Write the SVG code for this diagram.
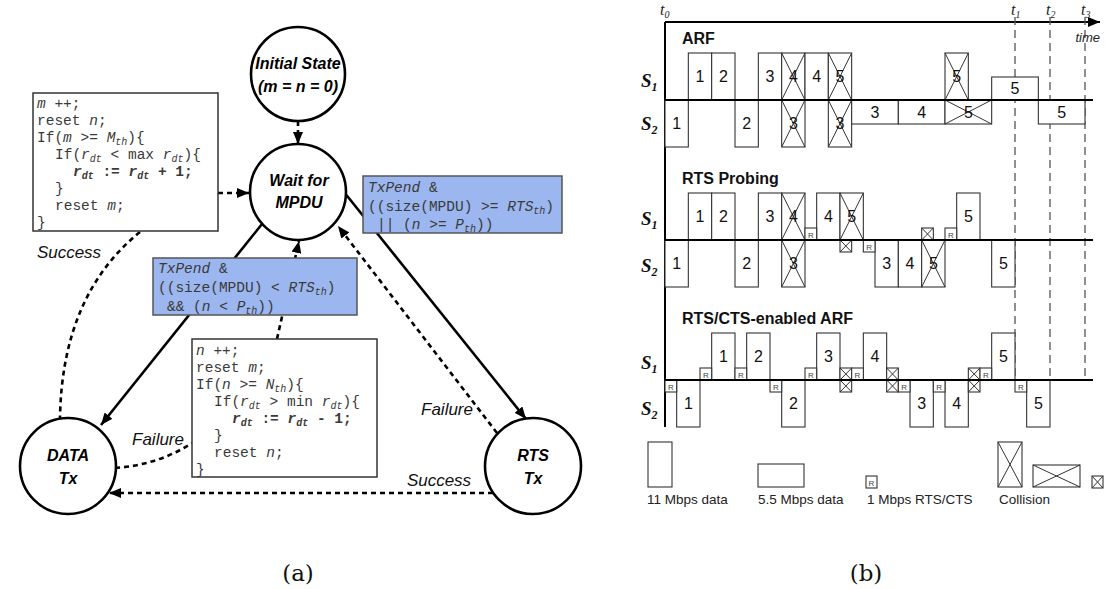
<svg xmlns="http://www.w3.org/2000/svg" width="1105" height="589" viewBox="0 0 1105 589">
<defs>
<style>
.st{fill:#fff;stroke:#000;stroke-width:2.6}
.nt{font-family:"Liberation Sans",Arial,sans-serif;font-weight:bold;font-style:italic;font-size:16px;text-anchor:middle;fill:#000}
.code{font-family:"Liberation Mono","Courier New",monospace;font-size:14.5px;fill:#3a3a3a}
.cb{fill:#fff;stroke:#333;stroke-width:1.5}
.blue{fill:#9cb6ef;stroke:#555;stroke-width:1.5}
.solid{fill:none;stroke:#000;stroke-width:2.6}
.dash{fill:none;stroke:#000;stroke-width:2.6;stroke-dasharray:5 4}
.lbl{font-family:"Liberation Sans",Arial,sans-serif;font-style:italic;font-size:17px;fill:#111;text-anchor:middle}
.b{fill:#fff;stroke:#333;stroke-width:1.1}
.x{fill:none;stroke:#333;stroke-width:1}
.n{font-family:"Liberation Sans",Arial,sans-serif;font-size:16px;text-anchor:middle;fill:#111}
.rt{font-family:"Liberation Sans",Arial,sans-serif;font-size:8px;text-anchor:middle;fill:#444}
.base{stroke:#000;stroke-width:2;fill:none}
.tl{stroke:#555;stroke-width:1.3;stroke-dasharray:8 5;fill:none}
.sec{font-family:"Liberation Sans",Arial,sans-serif;font-weight:bold;font-size:16px;fill:#111}
.sl{font-family:"Liberation Serif","Times New Roman",serif;font-weight:bold;font-style:italic;font-size:19px;fill:#111}
.leg{font-family:"Liberation Sans",Arial,sans-serif;font-size:13.5px;fill:#222}
.tt{font-family:"Liberation Serif","Times New Roman",serif;font-style:italic;font-size:16px;fill:#222}
.cap{font-family:"DejaVu Serif","Liberation Serif",serif;font-size:23px;fill:#111;text-anchor:middle}
</style>
<marker id="ah" viewBox="0 0 12 10" refX="12" refY="5" markerWidth="12" markerHeight="10" orient="auto" markerUnits="userSpaceOnUse"><path d="M0,0 L12,5 L0,10 z" fill="#000"/></marker>
</defs>
<rect width="1105" height="589" fill="#fff"/>

<g id="connectors">
<path class="solid" d="M262,224 L101,425" marker-end="url(#ah)"/>
<path class="solid" d="M344,192 L526,419" marker-end="url(#ah)"/>
<path class="dash" d="M298,121 L298,144" marker-end="url(#ah)"/>
<path class="dash" d="M218,193 L249,193" marker-end="url(#ah)"/>
<path class="dash" d="M277,339 L299,241" marker-end="url(#ah)"/>
<path class="dash" d="M497,433 L338,226" marker-end="url(#ah)"/>
<path class="dash" d="M493,493 L109,493" marker-end="url(#ah)"/>
<path class="dash" d="M140,232 Q62,295 60,418"/>
<path class="dash" d="M115,468 Q158,465 192,443"/>
<text class="lbl" x="69" y="258">Success</text>
<text class="lbl" x="158" y="445">Failure</text>
<text class="lbl" x="447" y="415">Failure</text>
<text class="lbl" x="439" y="486">Success</text>
</g>

<g id="node-initial">
<circle class="st" cx="298" cy="74" r="47"/>
<text class="nt" x="298" y="69">Initial State</text>
<text class="nt" x="298" y="92">(m = n = 0)</text>
</g>
<g id="node-wait">
<circle class="st" cx="298" cy="192" r="48"/>
<text class="nt" x="299" y="186">Wait for</text>
<text class="nt" x="299" y="208">MPDU</text>
</g>
<g id="node-data">
<circle class="st" cx="68" cy="466" r="48"/>
<text class="nt" x="68" y="461">DATA</text>
<text class="nt" x="68" y="484">Tx</text>
</g>
<g id="node-rts">
<circle class="st" cx="533" cy="466" r="48"/>
<text class="nt" x="533" y="461">RTS</text>
<text class="nt" x="533" y="484">Tx</text>
</g>

<g id="cond-rts">
<rect class="blue" x="363" y="176" width="199" height="57"/>
<text class="code" xml:space="preserve" x="368" y="192"><tspan font-style="italic">TxPend</tspan> &amp;</text>
<text class="code" xml:space="preserve" x="368" y="211">((size(MPDU) &gt;= <tspan font-style="italic">RTS</tspan><tspan font-style="italic" font-size="10" dy="3">th</tspan><tspan dy="-3">)</tspan></text>
<text class="code" xml:space="preserve" x="377" y="229">|| (<tspan font-style="italic">n</tspan> &gt;= <tspan font-style="italic">P</tspan><tspan font-style="italic" font-size="10" dy="3">th</tspan><tspan dy="-3">))</tspan></text>
</g>

<g id="cond-data">
<rect class="blue" x="153" y="258" width="204" height="57"/>
<text class="code" xml:space="preserve" x="158" y="273"><tspan font-style="italic">TxPend</tspan> &amp;</text>
<text class="code" xml:space="preserve" x="158" y="292">((size(MPDU) &lt; <tspan font-style="italic">RTS</tspan><tspan font-style="italic" font-size="10" dy="3">th</tspan><tspan dy="-3">)</tspan></text>
<text class="code" xml:space="preserve" x="167" y="311">&amp;&amp; (<tspan font-style="italic">n</tspan> &lt; <tspan font-style="italic">P</tspan><tspan font-style="italic" font-size="10" dy="3">th</tspan><tspan dy="-3">))</tspan></text>
</g>

<g id="code-success">
<rect class="cb" x="33" y="93" width="185" height="138"/>
<text class="code" xml:space="preserve" x="37" y="108"><tspan font-style="italic">m</tspan> ++;</text>
<text class="code" xml:space="preserve" x="37" y="125">reset <tspan font-style="italic">n</tspan>;</text>
<text class="code" xml:space="preserve" x="37" y="142">If(<tspan font-style="italic">m</tspan> &gt;= <tspan font-style="italic">M</tspan><tspan font-style="italic" font-size="10" dy="3">th</tspan><tspan dy="-3">){</tspan></text>
<text class="code" xml:space="preserve" x="55" y="159">If(<tspan font-style="italic">r</tspan><tspan font-style="italic" font-size="10" dy="3">dt</tspan><tspan dy="-3"> &lt; max </tspan><tspan font-style="italic">r</tspan><tspan font-style="italic" font-size="10" dy="3">dt</tspan><tspan dy="-3">){</tspan></text>
<text class="code" xml:space="preserve" x="73" y="176" font-weight="bold" fill="#000"><tspan font-style="italic">r</tspan><tspan font-style="italic" font-size="10" dy="3">dt</tspan><tspan dy="-3"> := </tspan><tspan font-style="italic">r</tspan><tspan font-style="italic" font-size="10" dy="3">dt</tspan><tspan dy="-3"> + 1;</tspan></text>
<text class="code" x="55" y="193">}</text>
<text class="code" xml:space="preserve" x="55" y="210">reset <tspan font-style="italic">m</tspan>;</text>
<text class="code" x="37" y="227">}</text>
</g>

<g id="code-failure">
<rect class="cb" x="192" y="339" width="185" height="138"/>
<text class="code" xml:space="preserve" x="196" y="355"><tspan font-style="italic">n</tspan> ++;</text>
<text class="code" xml:space="preserve" x="196" y="372">reset <tspan font-style="italic">m</tspan>;</text>
<text class="code" xml:space="preserve" x="196" y="389">If(<tspan font-style="italic">n</tspan> &gt;= <tspan font-style="italic">N</tspan><tspan font-style="italic" font-size="10" dy="3">th</tspan><tspan dy="-3">){</tspan></text>
<text class="code" xml:space="preserve" x="214" y="406">If(<tspan font-style="italic">r</tspan><tspan font-style="italic" font-size="10" dy="3">dt</tspan><tspan dy="-3"> &gt; min </tspan><tspan font-style="italic">r</tspan><tspan font-style="italic" font-size="10" dy="3">dt</tspan><tspan dy="-3">){</tspan></text>
<text class="code" xml:space="preserve" x="232" y="423" font-weight="bold" fill="#000"><tspan font-style="italic">r</tspan><tspan font-style="italic" font-size="10" dy="3">dt</tspan><tspan dy="-3"> := </tspan><tspan font-style="italic">r</tspan><tspan font-style="italic" font-size="10" dy="3">dt</tspan><tspan dy="-3"> - 1;</tspan></text>
<text class="code" x="214" y="440">}</text>
<text class="code" xml:space="preserve" x="214" y="457">reset <tspan font-style="italic">n</tspan>;</text>
<text class="code" x="196" y="474">}</text>
</g>

<text class="cap" x="298" y="581">(a)</text>
<text class="cap" x="866" y="581">(b)</text>

<g id="timeline-axes">
<path class="base" d="M665,22 L665,427"/>
<path class="base" d="M665,22 L1100,22" marker-end="url(#ah)"/>
<path class="tl" d="M1015,17 L1015,380"/>
<path class="tl" d="M1050,17 L1050,380"/>
<path class="tl" d="M1085,17 L1085,380"/>
<text class="tt" x="660" y="15">t<tspan font-size="10" dy="3">0</tspan></text>
<text class="tt" x="1011" y="15">t<tspan font-size="10" dy="3">1</tspan></text>
<text class="tt" x="1046" y="15">t<tspan font-size="10" dy="3">2</tspan></text>
<text class="tt" x="1081" y="15">t<tspan font-size="10" dy="3">3</tspan></text>
<text x="1100" y="42" font-family="Liberation Sans, Arial, sans-serif" font-style="italic" font-size="13" fill="#222" text-anchor="end">time</text>
</g>

<g id="arf">
<text class="sec" x="682" y="44">ARF</text>
<text class="sl" x="641" y="87">S<tspan font-size="12" dy="4">1</tspan></text>
<text class="sl" x="641" y="130">S<tspan font-size="12" dy="4">2</tspan></text>
<rect class="b" x="688.33" y="53" width="23.33" height="47"/><text class="n" x="700" y="82">1</text>
<rect class="b" x="711.67" y="53" width="23.33" height="47"/><text class="n" x="723.33" y="82">2</text>
<rect class="b" x="758.33" y="53" width="23.33" height="47"/><text class="n" x="770" y="82">3</text>
<rect class="b" x="781.67" y="53" width="23.33" height="47"/><path class="x" d="M781.67,53 L805,100 M805,53 L781.67,100"/><text class="n" x="793.33" y="82">4</text>
<rect class="b" x="805" y="53" width="23.33" height="47"/><text class="n" x="816.67" y="82">4</text>
<rect class="b" x="828.33" y="53" width="23.33" height="47"/><path class="x" d="M828.33,53 L851.67,100 M851.67,53 L828.33,100"/><text class="n" x="840" y="82">5</text>
<rect class="b" x="945" y="53" width="23.33" height="47"/><path class="x" d="M945,53 L968.33,100 M968.33,53 L945,100"/><text class="n" x="956.67" y="82">5</text>
<rect class="b" x="991.67" y="77" width="46.67" height="23"/><text class="n" x="1015" y="94">5</text>
<rect class="b" x="665" y="100" width="23.33" height="47"/><text class="n" x="676.67" y="129">1</text>
<rect class="b" x="735" y="100" width="23.33" height="47"/><text class="n" x="746.67" y="129">2</text>
<rect class="b" x="781.67" y="100" width="23.33" height="47"/><path class="x" d="M781.67,100 L805,147 M805,100 L781.67,147"/><text class="n" x="793.33" y="129">3</text>
<rect class="b" x="828.33" y="100" width="23.33" height="47"/><path class="x" d="M828.33,100 L851.67,147 M851.67,100 L828.33,147"/><text class="n" x="840" y="129">3</text>
<rect class="b" x="851.67" y="100" width="46.67" height="24"/><text class="n" x="875" y="118">3</text>
<rect class="b" x="898.33" y="100" width="46.67" height="24"/><text class="n" x="921.67" y="118">4</text>
<rect class="b" x="945" y="100" width="46.67" height="24"/><path class="x" d="M945,100 L991.67,124 M991.67,100 L945,124"/><text class="n" x="968.33" y="118">5</text>
<rect class="b" x="1038.33" y="100" width="46.67" height="24"/><text class="n" x="1061.67" y="118">5</text>
<path class="base" d="M665,100 L1093,100"/>
</g>

<g id="rts-probing">
<text class="sec" x="682" y="184">RTS Probing</text>
<text class="sl" x="641" y="225">S<tspan font-size="12" dy="4">1</tspan></text>
<text class="sl" x="641" y="272">S<tspan font-size="12" dy="4">2</tspan></text>
<rect class="b" x="688.33" y="193" width="23.33" height="47"/><text class="n" x="700" y="222">1</text>
<rect class="b" x="711.67" y="193" width="23.33" height="47"/><text class="n" x="723.33" y="222">2</text>
<rect class="b" x="758.33" y="193" width="23.33" height="47"/><text class="n" x="770" y="222">3</text>
<rect class="b" x="781.67" y="193" width="23.33" height="47"/><path class="x" d="M781.67,193 L805,240 M805,193 L781.67,240"/><text class="n" x="793.33" y="222">4</text>
<rect class="b" x="816.67" y="193" width="23.33" height="47"/><text class="n" x="828.33" y="222">4</text>
<rect class="b" x="840" y="193" width="23.33" height="47"/><path class="x" d="M840,193 L863.33,240 M863.33,193 L840,240"/><text class="n" x="851.67" y="222">5</text>
<rect class="b" x="956.67" y="193" width="23.33" height="47"/><text class="n" x="968.33" y="222">5</text>
<rect class="b" x="805" y="228" width="11.67" height="12"/><text class="rt" x="810.83" y="237.5">R</text>
<rect class="b" x="921.67" y="228" width="11.67" height="12"/><path class="x" d="M921.67,228 L933.33,240 M933.33,228 L921.67,240" stroke-width="1.4"/>
<rect class="b" x="945" y="228" width="11.67" height="12"/><text class="rt" x="950.83" y="237.5">R</text>
<rect class="b" x="665" y="240" width="23.33" height="47"/><text class="n" x="676.67" y="269">1</text>
<rect class="b" x="735" y="240" width="23.33" height="47"/><text class="n" x="746.67" y="269">2</text>
<rect class="b" x="781.67" y="240" width="23.33" height="47"/><path class="x" d="M781.67,240 L805,287 M805,240 L781.67,287"/><text class="n" x="793.33" y="269">3</text>
<rect class="b" x="875" y="240" width="23.33" height="47"/><text class="n" x="886.67" y="269">3</text>
<rect class="b" x="898.33" y="240" width="23.33" height="47"/><text class="n" x="910" y="269">4</text>
<rect class="b" x="921.67" y="240" width="23.33" height="47"/><path class="x" d="M921.67,240 L945,287 M945,240 L921.67,287"/><text class="n" x="933.33" y="269">5</text>
<rect class="b" x="991.67" y="240" width="23.33" height="47"/><text class="n" x="1003.33" y="269">5</text>
<rect class="b" x="840" y="240" width="11.67" height="12"/><path class="x" d="M840,240 L851.67,252 M851.67,240 L840,252" stroke-width="1.4"/>
<rect class="b" x="863.33" y="240" width="11.67" height="12"/><text class="rt" x="869.17" y="249.5">R</text>
<path class="base" d="M665,240 L1093,240"/>
</g>

<g id="rts-cts-arf">
<text class="sec" x="682" y="324">RTS/CTS-enabled ARF</text>
<text class="sl" x="641" y="369">S<tspan font-size="12" dy="4">1</tspan></text>
<text class="sl" x="641" y="415">S<tspan font-size="12" dy="4">2</tspan></text>
<rect class="b" x="711.67" y="333" width="23.33" height="47"/><text class="n" x="723.33" y="362">1</text>
<rect class="b" x="746.67" y="333" width="23.33" height="47"/><text class="n" x="758.33" y="362">2</text>
<rect class="b" x="816.67" y="333" width="23.33" height="47"/><text class="n" x="828.33" y="362">3</text>
<rect class="b" x="863.33" y="333" width="23.33" height="47"/><text class="n" x="875" y="362">4</text>
<rect class="b" x="991.67" y="333" width="23.33" height="47"/><text class="n" x="1003.33" y="362">5</text>
<rect class="b" x="700" y="368" width="11.67" height="12"/><text class="rt" x="705.83" y="377.5">R</text>
<rect class="b" x="735" y="368" width="11.67" height="12"/><text class="rt" x="740.83" y="377.5">R</text>
<rect class="b" x="805" y="368" width="11.67" height="12"/><text class="rt" x="810.83" y="377.5">R</text>
<rect class="b" x="840" y="368" width="11.67" height="12"/><path class="x" d="M840,368 L851.67,380 M851.67,368 L840,380" stroke-width="1.4"/>
<rect class="b" x="851.67" y="368" width="11.67" height="12"/><text class="rt" x="857.5" y="377.5">R</text>
<rect class="b" x="886.67" y="368" width="11.67" height="12"/><path class="x" d="M886.67,368 L898.33,380 M898.33,368 L886.67,380" stroke-width="1.4"/>
<rect class="b" x="968.33" y="368" width="11.67" height="12"/><path class="x" d="M968.33,368 L980,380 M980,368 L968.33,380" stroke-width="1.4"/>
<rect class="b" x="980" y="368" width="11.67" height="12"/><text class="rt" x="985.83" y="377.5">R</text>
<rect class="b" x="676.67" y="380" width="23.33" height="47"/><text class="n" x="688.33" y="409">1</text>
<rect class="b" x="781.67" y="380" width="23.33" height="47"/><text class="n" x="793.33" y="409">2</text>
<rect class="b" x="910" y="380" width="23.33" height="47"/><text class="n" x="921.67" y="409">3</text>
<rect class="b" x="945" y="380" width="23.33" height="47"/><text class="n" x="956.67" y="409">4</text>
<rect class="b" x="1026.67" y="380" width="23.33" height="47"/><text class="n" x="1038.33" y="409">5</text>
<rect class="b" x="665" y="380" width="11.67" height="12"/><text class="rt" x="670.83" y="389.5">R</text>
<rect class="b" x="770" y="380" width="11.67" height="12"/><text class="rt" x="775.83" y="389.5">R</text>
<rect class="b" x="840" y="380" width="11.67" height="12"/><path class="x" d="M840,380 L851.67,392 M851.67,380 L840,392" stroke-width="1.4"/>
<rect class="b" x="886.67" y="380" width="11.67" height="12"/><path class="x" d="M886.67,380 L898.33,392 M898.33,380 L886.67,392" stroke-width="1.4"/>
<rect class="b" x="898.33" y="380" width="11.67" height="12"/><text class="rt" x="904.17" y="389.5">R</text>
<rect class="b" x="933.33" y="380" width="11.67" height="12"/><text class="rt" x="939.17" y="389.5">R</text>
<rect class="b" x="968.33" y="380" width="11.67" height="12"/><path class="x" d="M968.33,380 L980,392 M980,380 L968.33,392" stroke-width="1.4"/>
<rect class="b" x="1015" y="380" width="11.67" height="12"/><text class="rt" x="1020.83" y="389.5">R</text>
<path class="base" d="M665,380 L1093,380"/>
</g>

<g id="legend">
<rect class="b" x="648" y="442" width="24" height="45"/>
<rect class="b" x="758" y="464" width="46" height="23"/>
<rect class="b" x="866" y="476" width="11" height="12"/><text class="rt" x="871.5" y="485.5">R</text>
<rect class="b" x="998" y="442" width="24" height="45"/><path class="x" d="M998,442 L1022,487 M1022,442 L998,487"/>
<rect class="b" x="1033" y="465" width="47" height="22"/><path class="x" d="M1033,465 L1080,487 M1080,465 L1033,487"/>
<rect class="b" x="1092" y="476" width="11" height="12"/><path class="x" d="M1092,476 L1103,488 M1103,476 L1092,488" stroke-width="1.4"/>
<text class="leg" x="647" y="504">11 Mbps data</text>
<text class="leg" x="758" y="504">5.5 Mbps data</text>
<text class="leg" x="867" y="504">1 Mbps RTS/CTS</text>
<text class="leg" x="999" y="504">Collision</text>
</g>
</svg>
